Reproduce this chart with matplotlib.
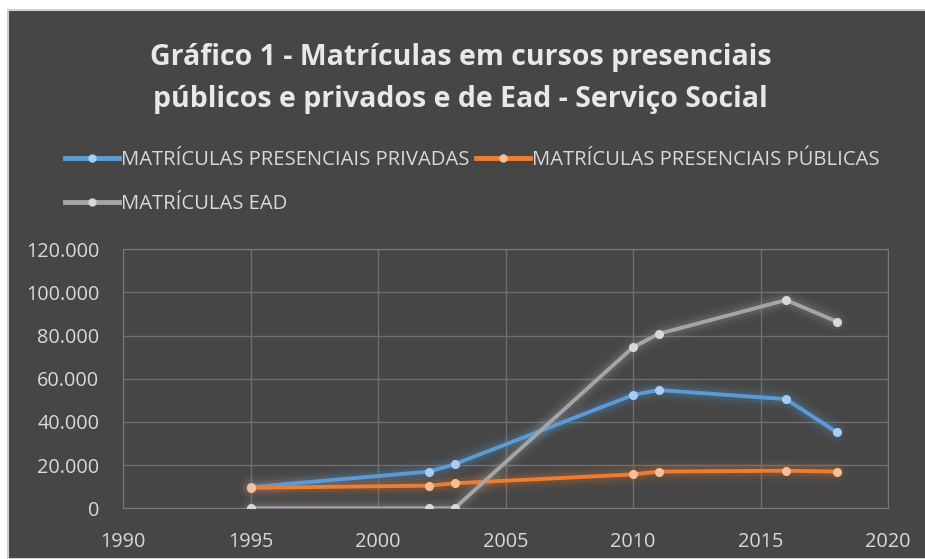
import matplotlib.pyplot as plt
from matplotlib.patches import Rectangle
from matplotlib.ticker import FuncFormatter
from matplotlib.lines import Line2D

plt.rcParams['font.family'] = ['Open Sans', 'DejaVu Sans']

# dados
anos = [1995, 2002, 2003, 2010, 2011, 2016, 2018]
privadas = [9800, 17000, 20400, 52500, 54800, 50600, 35200]
publicas = [9500, 10500, 11600, 15700, 17000, 17400, 17000]
ead = [0, 0, 0, 74600, 80800, 96500, 86500]

rotulos = ['MATRÍCULAS PRESENCIAIS PRIVADAS',
           'MATRÍCULAS PRESENCIAIS PÚBLICAS',
           'MATRÍCULAS EAD']
cores = ['#5B9BD5', '#ED7D31', '#A5A5A5']
cores_marc = ['#a9cdf0', '#f7bf99', '#d9d9d9']

bg = '#464646'
txt = '#d9d9d9'

fig = plt.figure(figsize=(9.25, 5.59), dpi=100)
fig.patch.set_facecolor('white')
fig.patches.append(Rectangle((8 / 925, 0), 1, 1 - 10 / 559, transform=fig.transFigure,
                             facecolor=bg, edgecolor='#d0d0d0', linewidth=1.5, zorder=-5))

ax = fig.add_axes([0.133, 0.0907, 0.827, 0.4633])
ax.set_facecolor(bg)

handles = []
for serie, cor, cm in zip([privadas, publicas, ead], cores, cores_marc):
    # brilho suave
    for lw, a in [(16, 0.05), (11, 0.08), (7, 0.12)]:
        ax.plot(anos, serie, color=cor, lw=lw, alpha=a, solid_capstyle='round',
                solid_joinstyle='round', zorder=2)
    ax.plot(anos, serie, color=cor, lw=2.8, solid_joinstyle='round', zorder=3)
    ax.plot(anos, serie, ls='none', marker='o', ms=5.5, color=cm, mec=cm, zorder=4)
    handles.append(Line2D([], [], color=cor, lw=3.5, marker='o', ms=5, mfc=cm, mec=cm))

ax.set_xlim(1990, 2020)
ax.set_ylim(0, 120000)
ax.set_xticks(range(1990, 2021, 5))
ax.set_yticks(range(0, 120001, 20000))
ax.yaxis.set_major_formatter(FuncFormatter(lambda v, p: f'{int(v):,}'.replace(',', '.')))
ax.grid(True, color='#6e6e6e', lw=1)
ax.set_axisbelow(True)
for s in ax.spines.values():
    s.set_color('#7a7a7a')
ax.tick_params(length=0, colors=txt, labelsize=14.3)
ax.tick_params(axis='x', pad=17)
ax.tick_params(axis='y', pad=17)

fig.text(0.498, 0.859, 'Gráfico 1 - Matrículas em cursos presenciais\npúblicos e privados e de Ead - Serviço Social',
         ha='center', va='center', color='#e8e8e8', fontsize=20.5, fontweight='bold',
         linespacing=1.6)

# ordem por coluna: privadas e EAD na primeira, públicas na segunda
ordem = [0, 2, 1]
leg = fig.legend([handles[i] for i in ordem], [rotulos[i] for i in ordem],
                 loc='upper left', bbox_to_anchor=(0.0703, 0.731),
                 ncol=2, frameon=False, fontsize=14.6, labelcolor=txt,
                 handlelength=2.65, handletextpad=0.1, columnspacing=0.35,
                 labelspacing=1.15, borderaxespad=0, borderpad=0)

fig.savefig('out.png', dpi=100, facecolor=fig.get_facecolor())
